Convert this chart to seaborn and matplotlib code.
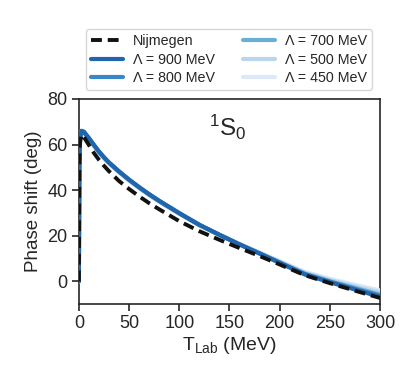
import numpy as np
import pandas as pd
import matplotlib
matplotlib.use('Agg')
import matplotlib.pyplot as plt
import seaborn as sns

# Data
t_lab = [0, 0.5, 1, 2.4, 5, 10, 15, 20, 25, 30, 40, 50, 60, 70, 80,
         100, 120, 140, 160, 180, 200, 225, 250, 275, 300]
nijmegen = [0, 50, 60, 64.3, 63.3, 59.8, 56.3, 53.3, 50.7, 48.3, 44.0, 40.5, 37.3, 34.3, 31.6,
            26.4, 22.0, 18.2, 14.6, 11.1, 7.4, 2.7, -0.8, -4.1, -7.3]

cutoffs = [900, 800, 700, 500, 450]
phase_900 = [0, 52, 62, 66, 65.6, 62.8, 59.8, 56.9, 54.4, 52.1, 48.2, 44.6, 41.3, 38.2, 35.3,
             29.9, 24.8, 20.4, 16.2, 12.2, 8.1, 3.0, -0.4, -3.6, -6.8]
phase_800 = [0, 52, 62, 66, 65.6, 62.8, 59.8, 56.9, 54.4, 52.1, 48.2, 44.6, 41.3, 38.2, 35.3,
             29.9, 24.8, 20.4, 16.2, 12.2, 8.2, 3.2, -0.2, -3.3, -6.3]
phase_700 = [0, 52, 62, 65.9, 65.5, 62.7, 59.7, 56.8, 54.3, 52.0, 48.1, 44.5, 41.2, 38.1, 35.2,
             29.8, 24.7, 20.4, 16.2, 12.3, 8.3, 3.4, 0.1, -2.9, -5.8]
phase_500 = [0, 52, 62, 65.7, 65.3, 62.5, 59.5, 56.6, 54.1, 51.8, 47.9, 44.3, 41.0, 37.9, 35.0,
             29.7, 24.6, 20.4, 16.3, 12.5, 8.6, 3.8, 0.6, -2.2, -4.8]
phase_450 = [0, 52, 62, 65.5, 65.1, 62.3, 59.3, 56.4, 53.9, 51.6, 47.7, 44.1, 40.8, 37.7, 34.9,
             29.6, 24.6, 20.5, 16.4, 12.7, 8.9, 4.2, 1.1, -1.5, -4.0]

series = [phase_900, phase_800, phase_700, phase_500, phase_450]
colors = ['#2166ac', '#3a87c8', '#6aaed6', '#b9d6ec', '#dce9f6']

sns.set_theme(style='ticks')
plt.rcParams['font.family'] = ['Liberation Sans', 'DejaVu Sans']
plt.rcParams['mathtext.default'] = 'regular'

fig = plt.figure(figsize=(4.15, 3.85), dpi=100)
ax = fig.add_axes([0.19, 0.21, 0.726, 0.533])

sns.lineplot(x=t_lab, y=nijmegen, ax=ax, color='#111111', lw=2.8,
             linestyle=(0, (2.8, 1.5)), zorder=5)
for i, (lam, vals, c) in enumerate(zip(cutoffs, series, colors)):
    sns.lineplot(x=t_lab, y=vals, ax=ax, color=c, lw=3.0, zorder=4 - i * 0.1)

lines = ax.get_lines()
labels = ['Nijmegen'] + [f'Λ = {l} MeV' for l in cutoffs]
fig.legend(lines[:6], labels, ncol=2, loc='upper center',
           bbox_to_anchor=(0.552, 0.942), fontsize=10.3, frameon=True,
           columnspacing=2.0, handlelength=2.2, handletextpad=0.7,
           borderpad=0.35, labelspacing=0.3)

ax.text(0.495, 0.93, r'$^1$S$_0$', transform=ax.transAxes, ha='center', va='top',
        fontsize=17.5)

ax.set_xlim(0, 300)
ax.set_ylim(-10, 80)
ax.set_xticks([0, 50, 100, 150, 200, 250, 300])
ax.set_yticks([0, 20, 40, 60, 80])
ax.tick_params(labelsize=13, length=5, width=1.2, pad=3)
for s in ax.spines.values():
    s.set_linewidth(1.2)
ax.set_xlabel(r'T$_{Lab}$ (MeV)', fontsize=14, labelpad=2)
ax.set_ylabel('Phase shift (deg)', fontsize=13.5, labelpad=4)

fig.savefig('out.png', dpi=100)
